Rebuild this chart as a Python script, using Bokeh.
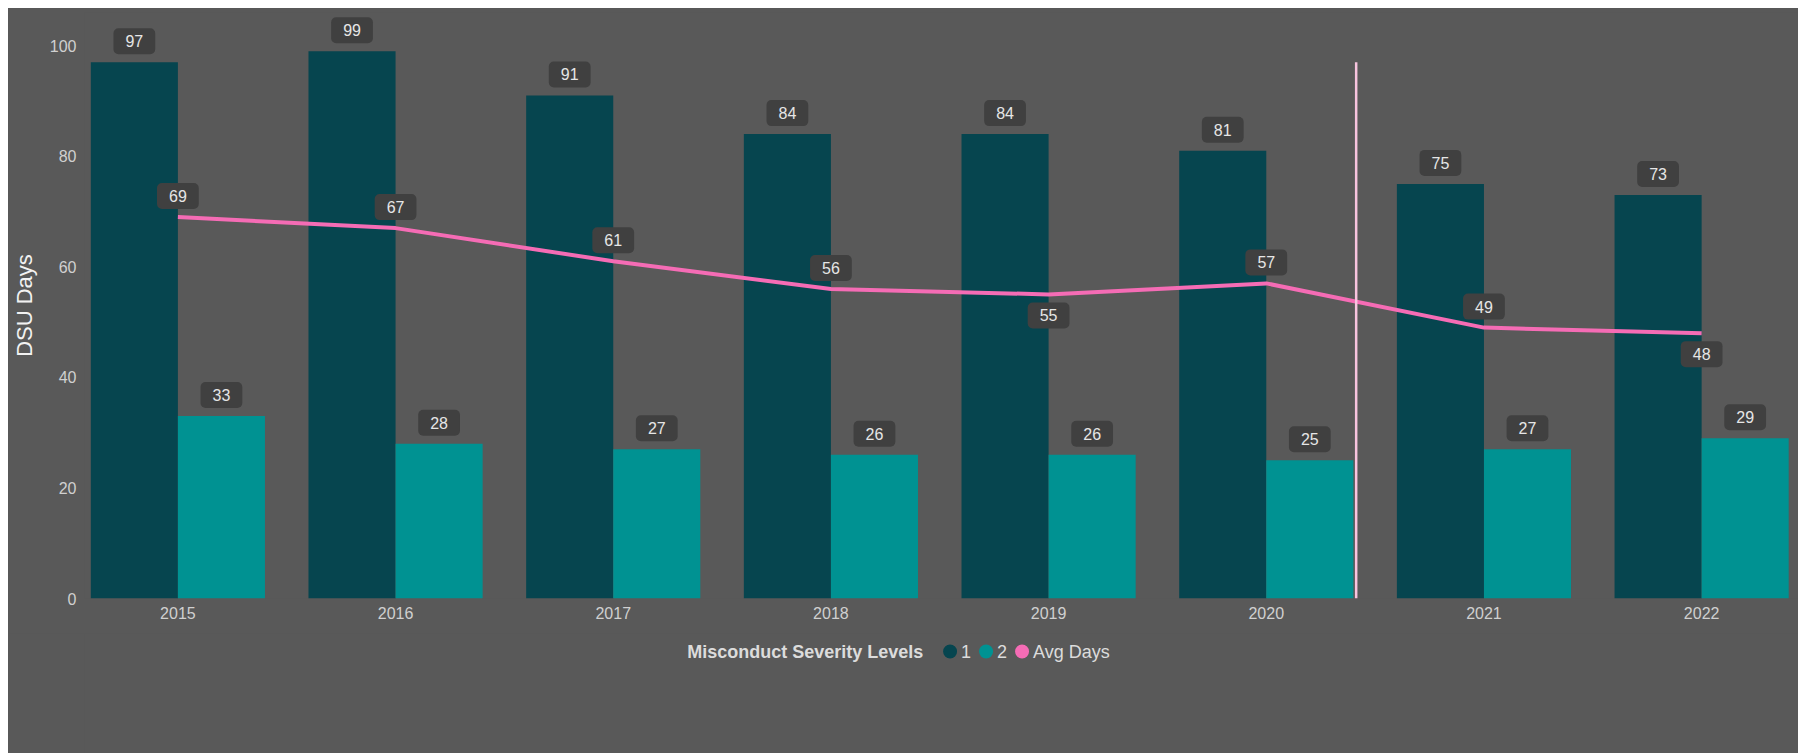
from bokeh.plotting import figure
from bokeh.layouts import column
from bokeh.models import ColumnDataSource, FixedTicker, Range1d
from bokeh.transform import dodge
from bokeh.core.properties import value
from bokeh.embed import file_html
from bokeh.resources import INLINE

# ---- data ----
years = ["2015", "2016", "2017", "2018", "2019", "2020", "2021", "2022"]
level1 = [97, 99, 91, 84, 84, 81, 75, 73]
level2 = [33, 28, 27, 26, 26, 25, 27, 29]
avg_days = [69, 67, 61, 56, 55, 57, 49, 48]
avg_label_below = [False, False, False, False, True, False, False, True]
y_ticks = [0, 20, 40, 60, 80, 100]
series_names = ["1", "2", "Avg Days"]
legend_title = "Misconduct Severity Levels"
y_title = "DSU Days"
divider_x = 5.413      # vertical marker between 2020 and 2021
divider_top = 97

# ---- styles ----
BG = "#595959"
C1 = "#06454f"
C2 = "#009292"
PINK = "#f56cb5"
DIV = "#f8c4df"
BOX = "#404040"
LBL = "#e6e6e6"
LEG = "#dcdcdc"
FONT = "Liberation Sans"
W = 1790
series_colors = [C1, C2, PINK]

idx = list(range(len(years)))
src = ColumnDataSource(dict(
    x=idx, l1=level1, l2=level2, avg=avg_days,
    l1_txt=[str(v) for v in level1],
    l2_txt=[str(v) for v in level2],
    avg_txt=[str(v) for v in avg_days],
    avg_off=[21 if b else -21 for b in avg_label_below],
))

p = figure(width=W, height=625, output_backend="svg", toolbar_location=None,
           x_range=Range1d(-0.429, 7.445), y_range=Range1d(0, 106),
           min_border_left=75, min_border_right=0, min_border_top=4, min_border_bottom=35,
           background_fill_color=BG, border_fill_color=BG, outline_line_color=None,
           styles={"background-color": BG})

p.vbar(x=dodge("x", -0.2), top="l1", width=0.4, source=src, fill_color=C1, line_color=None)
p.vbar(x=dodge("x", 0.2), top="l2", width=0.4, source=src, fill_color=C2, line_color=None)
p.line(x="x", y="avg", source=src, line_color=PINK, line_width=4)
p.segment(x0=[divider_x], y0=[0], x1=[divider_x], y1=[divider_top], line_color=DIV, line_width=2.5)

common = dict(text_align="center", text_baseline="middle", text_font=value(FONT),
              text_font_size="16px", text_color=LBL, background_fill_color=BOX,
              border_radius=5, padding=(12, 7))
p.text(x=dodge("x", -0.2), y="l1", text="l1_txt", source=src, y_offset=-21, **common)
p.text(x=dodge("x", 0.2), y="l2", text="l2_txt", source=src, y_offset=-21, **common)
p.text(x="x", y="avg", text="avg_txt", source=src, y_offset="avg_off", **common)

# axes
for ax in (p.xaxis, p.yaxis):
    ax.axis_line_color = None
    ax.major_tick_line_color = None
    ax.minor_tick_line_color = None
    ax.major_tick_out = 0
    ax.major_tick_in = 0
    ax.major_label_text_font = FONT
    ax.major_label_text_font_size = "16px"
    ax.major_label_text_color = "#d0d0d0"
    ax.major_label_standoff = 8
p.yaxis.ticker = FixedTicker(ticks=y_ticks)
p.yaxis.axis_label = y_title
p.yaxis.axis_label_text_font = FONT
p.yaxis.axis_label_text_font_size = "22px"
p.yaxis.axis_label_text_font_style = "normal"
p.yaxis.axis_label_text_color = "#f2f2f2"
p.yaxis.axis_label_standoff = 10
p.xaxis.ticker = FixedTicker(ticks=idx)
p.xaxis.major_label_overrides = {i: y for i, y in zip(idx, years)}
p.grid.visible = False

# ---- legend strip: a pixel-scaled figure whose frame lines up with the chart's ----
FRAME_W = W - 75
H2 = 120
q = figure(width=W, height=H2, output_backend="svg", toolbar_location=None,
           x_range=Range1d(0, FRAME_W), y_range=Range1d(0, H2),
           x_axis_location=None, y_axis_location=None,
           min_border_left=0, min_border_right=0, min_border_top=0, min_border_bottom=0,
           background_fill_color=BG, border_fill_color=BG, outline_line_color=None,
           styles={"background-color": BG})
q.grid.visible = False

# flow layout of the legend row using Arial/Liberation advance widths (per 1000 em)
ADV = {"1": 556, "2": 556, "A": 667, "v": 500, "g": 556, " ": 278, "D": 722,
       "a": 556, "y": 500, "s": 500}
ADV_B = {"M": 833, "i": 278, "s": 556, "c": 556, "o": 611, "n": 611, "d": 611, "u": 611,
         "t": 333, " ": 278, "S": 667, "e": 556, "v": 556, "r": 389, "y": 556, "L": 611, "l": 278}
FS = 18
def width(s, table):
    return sum(table.get(ch, 556) for ch in s) * FS / 1000.0

LEG_X0, LEG_Y = 603, H2 - 18
R = 7                      # marker radius (px)
GAP_TITLE, GAP_LABEL, GAP_ITEM = 20, 4, 8
cursor = LEG_X0 + width(legend_title, ADV_B) + GAP_TITLE
mx, lx = [], []
for name in series_names:
    mx.append(cursor + R)
    lx.append(cursor + 2 * R + GAP_LABEL)
    cursor = lx[-1] + width(name, ADV) + GAP_ITEM

leg = ColumnDataSource(dict(mx=mx, lx=lx, y=[LEG_Y] * len(series_names),
                            name=series_names, color=series_colors))
q.scatter(x="mx", y="y", source=leg, marker="circle", size=2 * R, fill_color="color", line_color=None)
q.text(x="lx", y="y", text="name", source=leg, text_align="left", text_baseline="middle",
       text_font=value(FONT), text_font_size="18px", text_color=LEG)
q.text(x=[LEG_X0], y=[LEG_Y], text=[legend_title], text_align="left", text_baseline="middle",
       text_font=value(FONT), text_font_size="18px", text_font_style=value("bold"), text_color=LEG)

layout = column(p, q, spacing=0, margin=(8, 0, 0, 8), styles={"background-color": BG})

open("out.html", "w").write(file_html(layout, INLINE))
